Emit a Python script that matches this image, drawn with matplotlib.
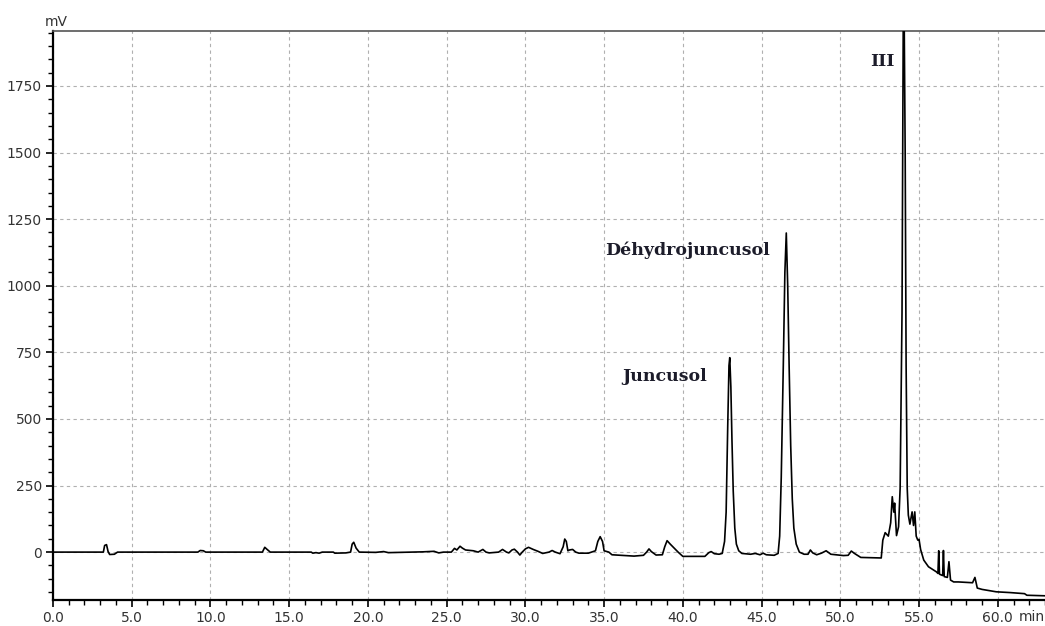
import matplotlib
matplotlib.use("Agg")
import matplotlib.pyplot as plt
from matplotlib.ticker import MultipleLocator, FormatStrFormatter

# chromatogram trace (time in min, signal in mV)
time_min = [0.0, 3.2, 3.28, 3.4, 3.5, 3.6, 3.9, 4.1, 9.2, 9.35, 9.55, 9.7, 13.3, 13.45, 13.6, 13.8,
            16.4, 16.5, 16.7, 16.9, 17.1, 17.8, 17.9, 18.6, 18.9, 19.0, 19.1, 19.25, 19.45,
            20.5, 21.0, 21.3, 22.6, 23.5, 24.2, 24.5, 24.8, 25.3, 25.5, 25.65, 25.85, 26.0, 26.2,
            26.5, 26.7, 27.0, 27.3, 27.5, 27.7, 28.3, 28.55, 28.8, 28.95, 29.15, 29.3, 29.5, 29.65,
            29.8, 30.0, 30.2, 30.5, 30.8, 31.1, 31.5, 31.7, 31.9, 32.2, 32.4, 32.5, 32.6, 32.7,
            32.8, 33.0, 33.2, 33.4, 34.0, 34.2, 34.45, 34.6, 34.75, 34.9, 35.0, 35.3, 35.5, 36.9,
            37.5, 37.7, 37.85, 38.0, 38.3, 38.7, 38.85, 39.0, 39.2, 39.4, 39.7, 40.0, 41.4, 41.65,
            41.8, 42.0, 42.3, 42.5, 42.65, 42.75, 42.85, 42.93, 42.98, 43.05, 43.12, 43.2, 43.3,
            43.4, 43.55, 43.75, 44.3, 44.6, 44.9, 45.1, 45.3, 45.8, 46.05, 46.15, 46.25, 46.38,
            46.48, 46.57, 46.66, 46.75, 46.85, 46.95, 47.05, 47.2, 47.4, 47.7, 47.95, 48.1, 48.25,
            48.5, 48.8, 49.1, 49.4, 50.2, 50.5, 50.7, 50.9, 51.3, 52.6, 52.7, 52.85, 53.05, 53.2,
            53.3, 53.4, 53.45, 53.57, 53.7, 53.8, 53.92, 54.02, 54.12, 54.18, 54.25, 54.32, 54.42,
            54.56, 54.65, 54.73, 54.82, 54.92, 55.0, 55.1, 55.3, 55.6, 56.1, 56.2, 56.25, 56.3,
            56.5, 56.55, 56.6, 56.8, 56.9, 57.0, 57.2, 57.5, 58.4, 58.55, 58.7, 59.0, 59.9, 60.8,
            61.7, 61.85, 63.0]
signal_mv = [0, 0, 25, 28, 2, -9, -8, 0, 0, 6, 5, 0, 0, 18, 10, 0,
             0, -4, -2, -4, 0, 0, -4, -3, 0, 30, 37, 15, 0,
             -1, 2, -2, 0, 1, 3, -3, 0, 0, 14, 8, 22, 15, 8,
             6, 5, 0, 10, 0, -3, 0, 10, 0, -3, 8, 11, 0, -11,
             0, 12, 18, 10, 3, -5, 0, 6, 0, -6, 20, 49, 40, 5,
             8, 10, 0, -4, -4, 0, 5, 40, 58, 40, 5, 0, -10, -15,
             -12, 0, 12, 2, -11, -10, 20, 43, 30, 18, 0, -16, -16, -2,
             2, -6, -8, -5, 40, 150, 470, 700, 730, 620, 420, 230, 90,
             30, 5, -5, -8, -5, -10, -4, -10, -12, -5, 60, 280, 700,
             1050, 1198, 1000, 700, 400, 200, 90, 30, 0, -8, -8, 8, -3,
             -10, -4, 5, -8, -13, -12, 4, -5, -20, -22, 45, 73, 60, 110,
             208, 150, 184, 62, 95, 240, 900, 2300, 1500, 700, 240, 139, 105,
             151, 100, 151, 60, 45, 48, 10, -30, -55, -74, -80, 5, -83,
             -88, 6, -92, -95, -36, -105, -112, -112, -115, -95, -135, -140, -149, -152,
             -156, -162, -164]

# peak annotations
peak_names = ["Juncusol", "Déhydrojuncusol", "III"]
label_t = [36.15, 35.05, 51.9]
label_v = [658, 1134, 1840]

fig = plt.figure(figsize=(10.45, 6.26), dpi=100)
ax = fig.add_axes([0.0507, 0.0423, 0.9493, 0.9089])

ax.plot(time_min, signal_mv, color="black", lw=1.2, zorder=3)

ax.set_xlim(0, 63.0)
ax.set_ylim(-178, 1958)

ax.xaxis.set_major_locator(MultipleLocator(5))
ax.xaxis.set_minor_locator(MultipleLocator(1))
ax.xaxis.set_major_formatter(FormatStrFormatter("%.1f"))
ax.yaxis.set_major_locator(MultipleLocator(250))
ax.yaxis.set_minor_locator(MultipleLocator(50))

ax.grid(True, which="major", color="#b0b0b0", linestyle=(0, (3, 3)), lw=0.8)
ax.tick_params(which="major", direction="out", length=5, width=1.2, labelsize=10,
               labelcolor="#333333", pad=3)
ax.tick_params(which="minor", direction="out", length=3.5, width=1.0)

for side in ["left", "bottom"]:
    ax.spines[side].set_linewidth(1.6)
ax.spines["top"].set_color("#555555")
ax.spines["top"].set_linewidth(1.2)
ax.spines["right"].set_visible(False)

fig.text(45 / 1045, 1 - 22 / 626, "mV", fontsize=10, color="#333333", va="center", ha="left")
fig.text(1019 / 1045, 1 - 617 / 626, "min", fontsize=10, color="#333333", va="center", ha="left")

for name, t, v in zip(peak_names, label_t, label_v):
    ax.text(t, v, name, family="DejaVu Serif", weight="bold", fontsize=12.5,
            color="#1c1c2a", ha="left", va="center", zorder=4)

plt.savefig("out.png", dpi=100)
